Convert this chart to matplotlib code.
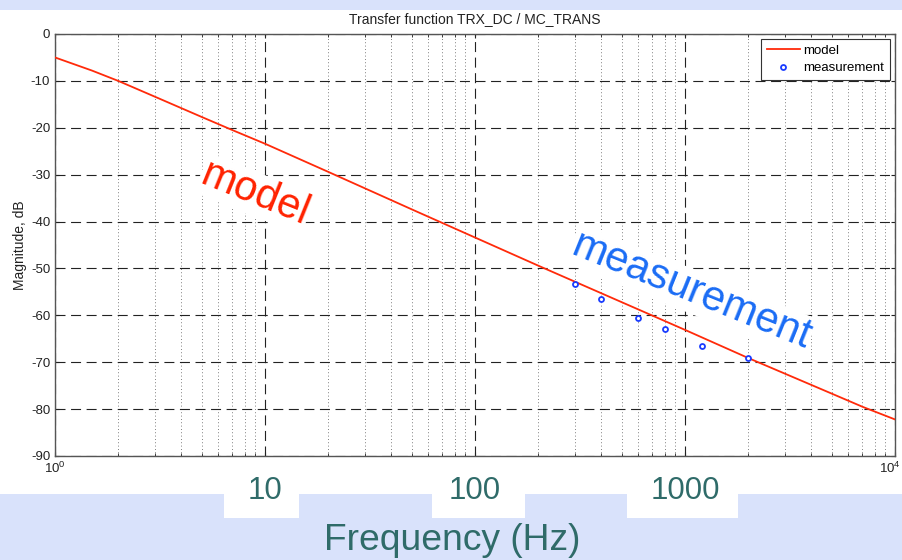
import numpy as np
import matplotlib
matplotlib.use("Agg")
import matplotlib.pyplot as plt
import matplotlib.transforms as mtransforms
from matplotlib.patches import Rectangle
from matplotlib.ticker import LogLocator, FixedLocator, FixedFormatter

plt.rcParams['font.family'] = ['Liberation Sans', 'DejaVu Sans']
plt.rcParams['axes.unicode_minus'] = False
plt.rcParams['mathtext.fontset'] = 'custom'
plt.rcParams['mathtext.rm'] = 'Liberation Sans'

# model curve
model_f = [1, 1.5, 2, 3, 5, 7, 10, 20, 50, 100, 200, 500, 1000, 2000, 5000, 7000, 10000]
model_db = [-5.0, -7.8, -10.0, -13.4, -17.7, -20.5, -23.4, -29.4, -37.4, -43.4,
            -49.4, -57.2, -63.1, -69.1, -76.7, -79.5, -82.2]

# measured points
meas_f = [300, 400, 600, 800, 1200, 2000]
meas_db = [-53.4, -56.5, -60.6, -62.9, -66.6, -69.1]

yticks = [0, -10, -20, -30, -40, -50, -60, -70, -80, -90]
big_labels = ["10", "100", "1000"]
big_pos = [10, 100, 1000]

W, H = 903, 560
bg = '#d9e2fb'
teal = '#2f6b69'

fig = plt.figure(figsize=(W / 100, H / 100), dpi=100, facecolor=bg)

# white panel behind the chart
fig.patches.append(Rectangle((0, (H - 494) / H), 1, 484 / H, transform=fig.transFigure,
                             facecolor='white', edgecolor='none', zorder=-5))

ax = fig.add_axes([55 / W, (H - 456) / H, 840 / W, 422 / H])
ax.set_zorder(2)
ax.set_xscale('log')
ax.set_xlim(1, 1e4)
ax.set_ylim(-90, 0)

ax.plot(model_f, model_db, color='#ff2a0a', lw=1.3, label='model', zorder=3)
ax.plot(meas_f, meas_db, ls='none', marker='o', ms=3.6, mfc='white', mec='#1a3cff',
        mew=1.3, label='measurement', zorder=4)

ax.set_yticks(yticks)
ax.xaxis.set_major_locator(FixedLocator([1, 10, 100, 1000, 10000]))
ax.xaxis.set_major_formatter(FixedFormatter([r'$10^0$', '', '', '', r'$10^4$']))
ax.xaxis.set_minor_locator(LogLocator(base=10, subs=np.arange(2, 10)))
ax.xaxis.set_minor_formatter(FixedFormatter([]))
ax.tick_params(which='both', direction='in', top=True, right=True, labelsize=9.5,
               colors='#222222', length=3)
ax.tick_params(which='minor', length=2)

# keep the last x label inside the figure edge
last = ax.get_xticklabels()[-1]
last.set_horizontalalignment('right')
last.set_transform(last.get_transform() +
                   mtransforms.ScaledTranslation(6 / 100, 0, fig.dpi_scale_trans))

ax.grid(True, which='major', color='#222222', lw=0.8, ls=(0, (9, 5)))
ax.grid(True, which='minor', axis='x', color='#555555', lw=0.6, ls=(0, (1, 3)))
ax.set_axisbelow(True)
for s in ax.spines.values():
    s.set_color('#555555')
    s.set_linewidth(1.0)

ax.set_title('Transfer function TRX_DC / MC_TRANS', fontsize=10, color='#222222', pad=8)
ax.set_ylabel('Magnitude, dB', fontsize=10, color='#222222', labelpad=3)

leg = ax.legend(loc='upper right', fontsize=9.5, fancybox=False, framealpha=1,
                edgecolor='#333333', borderaxespad=0.35, handlelength=2.5,
                handletextpad=0.3, borderpad=0.45, labelspacing=0.4)
leg.get_frame().set_linewidth(0.8)

# rotated annotations
ax.text((255 - 55) / 840, (456 - 194) / 422, 'model', transform=ax.transAxes,
        color='#ff2200', fontsize=30, rotation=-22, ha='center', va='center', zorder=6,
        bbox=dict(facecolor='white', edgecolor='none', pad=1))
ax.text((691 - 55) / 840, (456 - 291) / 422, 'measurement', transform=ax.transAxes,
        color='#1a6cf5', fontsize=30, rotation=-22, ha='center', va='center', zorder=6,
        bbox=dict(facecolor='white', edgecolor='none', pad=1))

# white boxes with big decade labels
boxes = [(224, 299), (432, 525), (627, 738)]
for (x0, x1), lab, f in zip(boxes, big_labels, big_pos):
    fig.patches.append(Rectangle((x0 / W, (H - 518) / H), (x1 - x0) / W, 26 / H,
                                 transform=fig.transFigure, facecolor='white',
                                 edgecolor='none', zorder=-5))
    xc = ax.transData.transform((f, 0))[0] / W
    fig.text(xc, 1 - 491 / H, lab, color=teal, fontsize=22.5, ha='center', va='center',
             zorder=5)

fig.text(452 / W, 1 - 540 / H, 'Frequency (Hz)', color=teal, fontsize=26.8,
         ha='center', va='center')

fig.savefig('out.png', dpi=100, facecolor=bg)
